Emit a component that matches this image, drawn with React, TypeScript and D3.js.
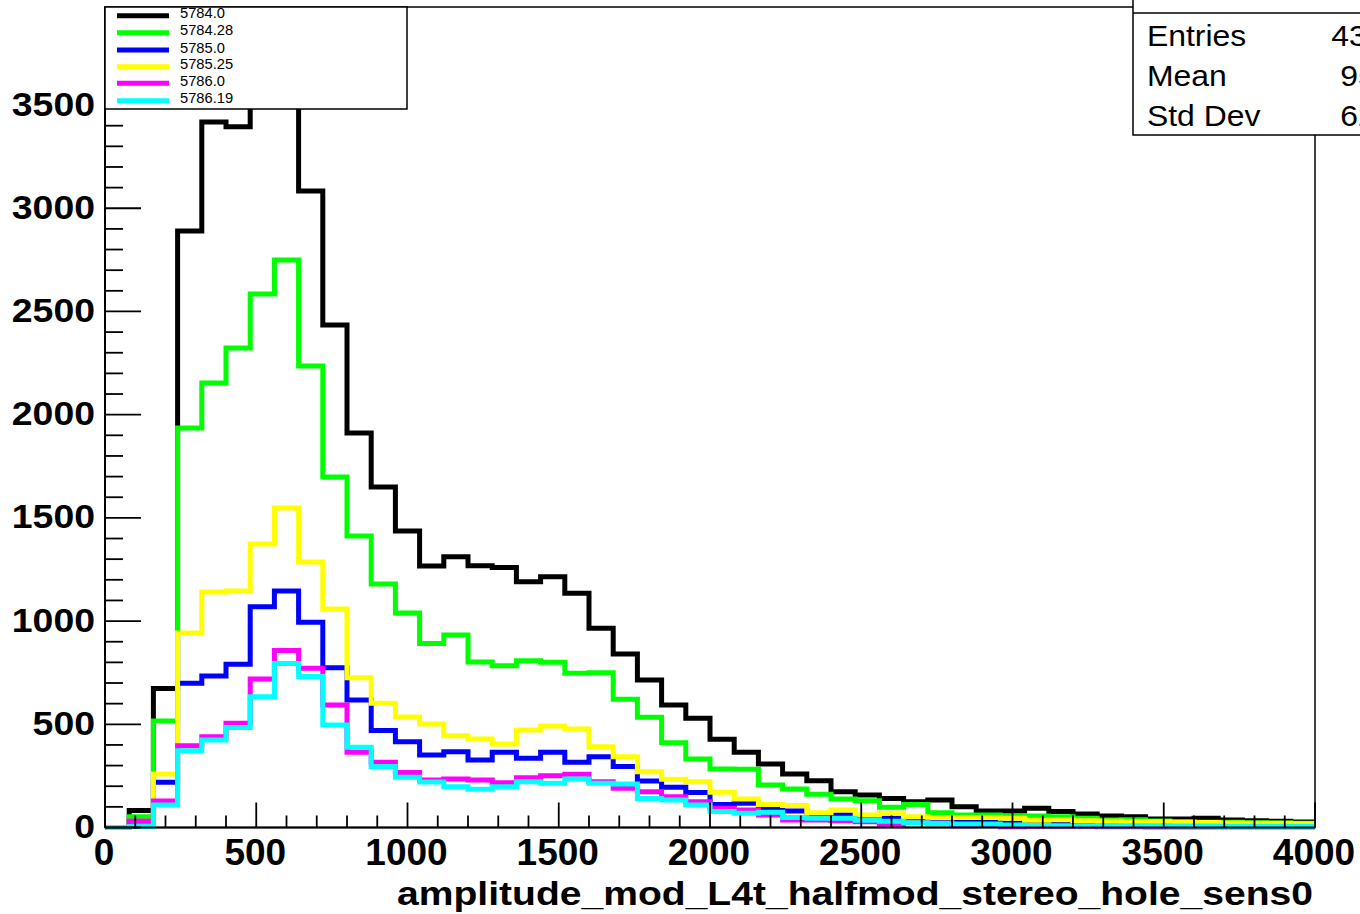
import React from "react";
import * as d3 from "d3";

const binEdgesMax = 4000;
const binWidth = 80;

const seriesNames = ["5784.0", "5784.28", "5785.0", "5785.25", "5786.0", "5786.19"];
const seriesColors = ["#000000", "#00ff00", "#0000ff", "#ffff00", "#ff00ff", "#00ffff"];

const black = [0, 82, 674, 2890, 3418, 3395, 3650, 3790, 3084, 2435, 1911, 1650, 1437, 1267, 1312, 1268, 1259, 1191, 1215, 1135, 965, 840, 715, 594, 529, 427, 364, 308, 259, 227, 173, 157, 141, 125, 133, 101, 80, 80, 93, 77, 65, 56, 52, 41, 41, 45, 36, 33, 30, 27];
const green = [0, 52, 516, 1935, 2154, 2323, 2584, 2749, 2236, 1698, 1412, 1180, 1039, 892, 933, 802, 784, 808, 800, 747, 750, 621, 534, 411, 332, 283, 282, 206, 187, 161, 138, 130, 98, 112, 72, 61, 61, 56, 56, 52, 45, 36, 38, 31, 28, 26, 25, 23, 22, 20];
const blue = [0, 30, 219, 699, 734, 791, 1070, 1146, 994, 774, 618, 470, 416, 351, 367, 327, 364, 335, 364, 316, 343, 295, 225, 195, 169, 112, 117, 93, 80, 61, 61, 49, 45, 40, 36, 30, 25, 20, 18, 17, 15, 14, 12, 12, 10, 10, 9, 8, 8, 7];
const yellow = [0, 30, 259, 942, 1141, 1146, 1373, 1548, 1286, 1059, 726, 602, 535, 501, 445, 429, 405, 472, 492, 477, 391, 343, 270, 234, 222, 171, 138, 112, 106, 72, 85, 61, 69, 52, 49, 49, 49, 45, 35, 38, 33, 30, 28, 28, 25, 24, 22, 20, 20, 18];
const magenta = [0, 30, 128, 396, 440, 505, 719, 857, 771, 594, 364, 316, 266, 230, 235, 230, 217, 241, 251, 258, 222, 190, 173, 149, 125, 93, 85, 61, 36, 36, 33, 28, 10, 25, 22, 8, 12, 4, 6, 5, 5, 4, 4, 3, 3, 3, 2, 2, 2, 2];
const cyan = [0, 5, 109, 372, 424, 485, 634, 795, 731, 497, 389, 295, 243, 220, 198, 185, 198, 222, 214, 235, 214, 211, 141, 133, 109, 77, 69, 74, 49, 45, 45, 35, 30, 23, 20, 17, 17, 12, 10, 9, 9, 9, 8, 8, 7, 7, 6, 6, 6, 6];

const seriesValues = [black, green, blue, yellow, magenta, cyan];

const yTickLabels = [0, 500, 1000, 1500, 2000, 2500, 3000, 3500];
const xTickLabels = [0, 500, 1000, 1500, 2000, 2500, 3000, 3500, 4000];

const statsLabels = ["Entries", "Mean", "Std Dev"];
const statsValues = ["43880", "951.6", "621.4"];

const xTitle = "amplitude_mod_L4t_halfmod_stereo_hole_sens0";

const FONT = "'Liberation Sans', Arial, Helvetica, sans-serif";

export default function App() {
  const left = 105, right = 1315, top = 7, bottom = 827.5;
  const yMax = 3975;
  const x = d3.scaleLinear().domain([0, binEdgesMax]).range([left, right]);
  const y = d3.scaleLinear().domain([0, yMax]).range([bottom, top]);

  const stepPath = (vals: number[]) => {
    let d = "";
    vals.forEach((v, i) => {
      const x0 = x(i * binWidth);
      const x1 = x((i + 1) * binWidth);
      const yy = y(v);
      d += i === 0 ? `M${x0},${yy}` : `V${yy}`;
      d += `H${x1}`;
    });
    return d;
  };

  const xMinor = d3.range(0, binEdgesMax + 1, 100);
  const yMinor = d3.range(0, yMax, 100);

  const legendRows = [15.7, 32.7, 50, 66.7, 83.3, 100.7];

  return (
    <svg
      width={1360}
      height={914}
      style={{ position: "absolute", left: 0, top: 0, display: "block", background: "#fff" }}
    >
      <defs>
        <clipPath id="legclip">
          <rect x={105} y={7} width={302} height={102} />
        </clipPath>
      </defs>
      <rect x={0} y={0} width={1360} height={914} fill="#fff" />

      {/* frame */}
      <rect x={left} y={top} width={right - left} height={bottom - top} fill="none" stroke="#000" strokeWidth={1.5} />

      {/* histograms */}
      {seriesValues.map((vals, i) => (
        <path
          key={seriesNames[i]}
          d={stepPath(vals)}
          fill="none"
          stroke={seriesColors[i]}
          strokeWidth={5}
          strokeLinejoin="miter"
          strokeLinecap="butt"
        />
      ))}

      {/* axes */}
      <line x1={left} x2={right} y1={bottom} y2={bottom} stroke="#000" strokeWidth={2} />
      <line x1={left} x2={left} y1={top} y2={bottom} stroke="#000" strokeWidth={2} />

      {xMinor.map((v) => {
        const major = v % 500 === 0;
        return (
          <line key={"xt" + v} x1={x(v)} x2={x(v)} y1={bottom} y2={bottom - (major ? 25 : 12)} stroke="#000" strokeWidth={1.8} />
        );
      })}
      {yMinor.map((v) => {
        const major = v % 500 === 0;
        return (
          <line key={"yt" + v} x1={left} x2={left + (major ? 36 : 18)} y1={y(v)} y2={y(v)} stroke="#000" strokeWidth={1.8} />
        );
      })}

      {yTickLabels.map((v) => (
        <text
          key={"yl" + v}
          transform={`translate(95,${y(v) + 10.5}) scale(1.1,1)`}
          textAnchor="end"
          fontFamily={FONT}
          fontWeight="bold"
          fontSize={34}
          fill="#000"
        >
          {v}
        </text>
      ))}
      {xTickLabels.map((v) => (
        <text
          key={"xl" + v}
          x={x(v) - 1}
          y={865}
          textAnchor="middle"
          fontFamily={FONT}
          fontWeight="bold"
          fontSize={37}
          fill="#000"
        >
          {v}
        </text>
      ))}

      <text
        x={1313}
        y={905}
        textAnchor="end"
        fontFamily={FONT}
        fontWeight="bold"
        fontSize={34}
        textLength={916}
        lengthAdjust="spacingAndGlyphs"
        fill="#000"
      >
        {xTitle}
      </text>

      {/* legend */}
      <rect x={105} y={7} width={302} height={102} fill="#fff" stroke="#000" strokeWidth={1.5} />
      <g clipPath="url(#legclip)">
        {seriesNames.map((n, i) => (
          <g key={"lg" + n}>
            <line x1={117} x2={169} y1={legendRows[i]} y2={legendRows[i]} stroke={seriesColors[i]} strokeWidth={5} />
            <text
              transform={`translate(180,${legendRows[i] + 2.5}) scale(1.05,1)`}
              fontFamily={FONT}
              fontSize={14}
              fill="#000"
            >
              {n}
            </text>
          </g>
        ))}
      </g>

      {/* stats box */}
      <rect x={1133} y={-2} width={300} height={137} fill="#fff" stroke="#000" strokeWidth={1.5} />
      <line x1={1133} x2={1360} y1={13} y2={13} stroke="#000" strokeWidth={1.5} />
      {statsLabels.map((s, i) => (
        <g key={"st" + s}>
          <text
            transform={`translate(1147,${46 + i * 40}) scale(1.1,1)`}
            fontFamily={FONT}
            fontSize={29}
            fill="#000"
          >
            {s}
          </text>
          <text
            transform={`translate(1420,${46 + i * 40}) scale(1.1,1)`}
            textAnchor="end"
            fontFamily={FONT}
            fontSize={29}
            fill="#000"
          >
            {statsValues[i]}
          </text>
        </g>
      ))}
    </svg>
  );
}
